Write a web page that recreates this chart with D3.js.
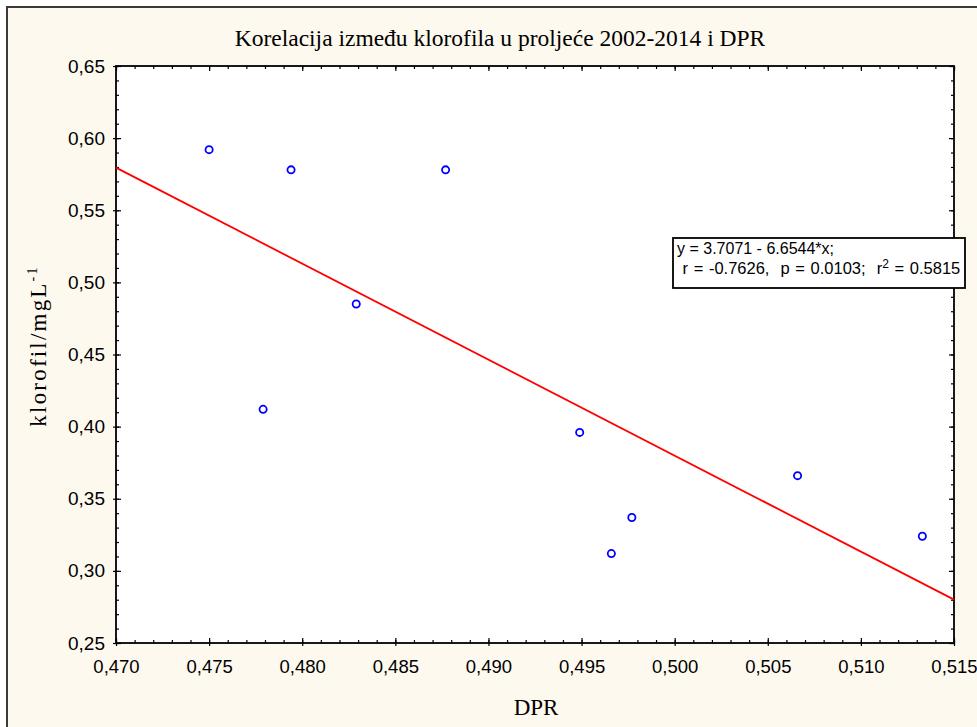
<!DOCTYPE html>
<html>
<head>
<meta charset="utf-8">
<script src="https://cdn.jsdelivr.net/npm/d3@7"></script>
<style>
  html, body { margin: 0; padding: 0; background: #ffffff; }
  svg { display: block; }
</style>
</head>
<body>
<svg id="chart" width="977" height="727"></svg>
<script>
// ---- data ----
const dpr      = [0.4750, 0.4794, 0.4877, 0.4829, 0.4779, 0.4949, 0.4977, 0.4966, 0.5066, 0.5133];
const klorofil = [0.592,  0.578,  0.578,  0.485,  0.412,  0.396,  0.337,  0.312,  0.366,  0.324];
const xTicks = [0.470, 0.475, 0.480, 0.485, 0.490, 0.495, 0.500, 0.505, 0.510, 0.515];
const yTicks = [0.25, 0.30, 0.35, 0.40, 0.45, 0.50, 0.55, 0.60, 0.65];
const xMinor = d3.range(0, 46).map(i => +(0.470 + i * 0.001).toFixed(3));
const yMinor = d3.range(0, 41).map(i => +(0.25 + i * 0.01).toFixed(2));
const regIntercept = 3.7071;
const regSlope = -6.6544;
const titleText = "Korelacija između klorofila u proljeće 2002-2014 i DPR";
const xTitle = "DPR";
const yTitleMain = "klorofil/mgL";
const yTitleSup = "-1";
const statLine1 = "y = 3.7071 - 6.6544*x;";
const statLine2a = " r = -0.7626,  p = 0.0103;  r";
const statLine2sup = "2";
const statLine2b = " = 0.5815";

// ---- layout ----
const svg = d3.select("#chart");
const L = 116, R = 954, T = 66, B = 643;
const x = d3.scaleLinear().domain([0.470, 0.515]).range([L, R]);
const y = d3.scaleLinear().domain([0.25, 0.65]).range([B, T]);
const commaFmt = f => v => d3.format(f)(v).replace(".", ",");

// outer frame
svg.append("rect").attr("x", 7).attr("y", 7).attr("width", 990).attr("height", 740)
  .attr("fill", "#fef9ee").attr("stroke", "#3a3a3a").attr("stroke-width", 2);

// plot area
svg.append("rect").attr("x", L).attr("y", T).attr("width", R - L).attr("height", B - T)
  .attr("fill", "#ffffff");

function styleAxis(g) {
  g.select(".domain").remove();
  g.selectAll(".tick line").attr("stroke", "#000").attr("stroke-width", 1.2);
}

// minor ticks (inside) on all four sides
svg.append("g").attr("transform", `translate(0,${B})`)
  .call(d3.axisBottom(x).tickValues(xMinor).tickSize(-3).tickFormat(""))
  .call(styleAxis);
svg.append("g").attr("transform", `translate(0,${T})`)
  .call(d3.axisTop(x).tickValues(xMinor).tickSize(-3).tickFormat(""))
  .call(styleAxis);
svg.append("g").attr("transform", `translate(${L},0)`)
  .call(d3.axisLeft(y).tickValues(yMinor).tickSize(-3).tickFormat(""))
  .call(styleAxis);
svg.append("g").attr("transform", `translate(${R},0)`)
  .call(d3.axisRight(y).tickValues(yMinor).tickSize(-3).tickFormat(""))
  .call(styleAxis);

// major ticks inside
svg.append("g").attr("transform", `translate(0,${B})`)
  .call(d3.axisBottom(x).tickValues(xTicks).tickSize(-5).tickFormat(""))
  .call(styleAxis);
svg.append("g").attr("transform", `translate(0,${T})`)
  .call(d3.axisTop(x).tickValues(xTicks).tickSize(-5).tickFormat(""))
  .call(styleAxis);
svg.append("g").attr("transform", `translate(${L},0)`)
  .call(d3.axisLeft(y).tickValues(yTicks).tickSize(-5).tickFormat(""))
  .call(styleAxis);
svg.append("g").attr("transform", `translate(${R},0)`)
  .call(d3.axisRight(y).tickValues(yTicks).tickSize(-5).tickFormat(""))
  .call(styleAxis);

// major ticks outside with labels
const xAxis = svg.append("g").attr("transform", `translate(0,${B})`)
  .call(d3.axisBottom(x).tickValues(xTicks).tickSize(3).tickPadding(14).tickFormat(commaFmt(".3f")))
  .call(styleAxis);
xAxis.selectAll("text").attr("font-family", "Liberation Sans, Arial, sans-serif")
  .attr("font-size", 18.5).attr("fill", "#000");

const yAxis = svg.append("g").attr("transform", `translate(${L},0)`)
  .call(d3.axisLeft(y).tickValues(yTicks).tickSize(3).tickPadding(8).tickFormat(commaFmt(".2f")))
  .call(styleAxis);
yAxis.selectAll("text").attr("font-family", "Liberation Sans, Arial, sans-serif")
  .attr("font-size", 19).attr("fill", "#000");

// plot border
svg.append("rect").attr("x", L).attr("y", T).attr("width", R - L).attr("height", B - T)
  .attr("fill", "none").attr("stroke", "#000").attr("stroke-width", 1.8);

// regression line
const xd = x.domain();
svg.append("line")
  .attr("x1", x(xd[0])).attr("y1", y(regIntercept + regSlope * xd[0]))
  .attr("x2", x(xd[1])).attr("y2", y(regIntercept + regSlope * xd[1]))
  .attr("stroke", "#ff0000").attr("stroke-width", 1.8);

// points
svg.append("g").selectAll("circle").data(dpr.map((d, i) => [d, klorofil[i]])).join("circle")
  .attr("cx", d => x(d[0])).attr("cy", d => y(d[1])).attr("r", 3.6)
  .attr("fill", "none").attr("stroke", "#0000ff").attr("stroke-width", 1.8);

// stats box
const box = svg.append("g");
box.append("rect").attr("x", 673).attr("y", 238).attr("width", 292).attr("height", 50)
  .attr("fill", "#ffffff").attr("stroke", "#000").attr("stroke-width", 1.8);
const statFont = "Liberation Sans, Arial, sans-serif";
box.append("text").attr("x", 677).attr("y", 254).attr("font-family", statFont)
  .attr("font-size", 16).style("white-space", "pre").text(statLine1);
const t2 = box.append("text").attr("x", 677).attr("y", 274).attr("font-family", statFont)
  .attr("font-size", 16.5).style("white-space", "pre").attr("word-spacing", 1);
t2.append("tspan").text(statLine2a);
t2.append("tspan").attr("font-size", 12).attr("dy", -6).text(statLine2sup);
t2.append("tspan").attr("dy", 6).text(statLine2b);

// titles
svg.append("text").attr("x", 500).attr("y", 46).attr("text-anchor", "middle")
  .attr("font-family", "Liberation Serif, Times New Roman, serif").attr("font-size", 23.5)
  .text(titleText);
svg.append("text").attr("x", 536).attr("y", 715).attr("text-anchor", "middle")
  .attr("font-family", "Liberation Serif, Times New Roman, serif").attr("font-size", 23)
  .text(xTitle);
const yt = svg.append("text").attr("transform", "translate(46,346) rotate(-90)")
  .attr("text-anchor", "middle")
  .attr("font-family", "Liberation Serif, Times New Roman, serif").attr("font-size", 23)
  .attr("letter-spacing", 2.2);
yt.append("tspan").text(yTitleMain);
yt.append("tspan").attr("font-size", 14).attr("dy", -9).text(yTitleSup);
</script>
</body>
</html>
